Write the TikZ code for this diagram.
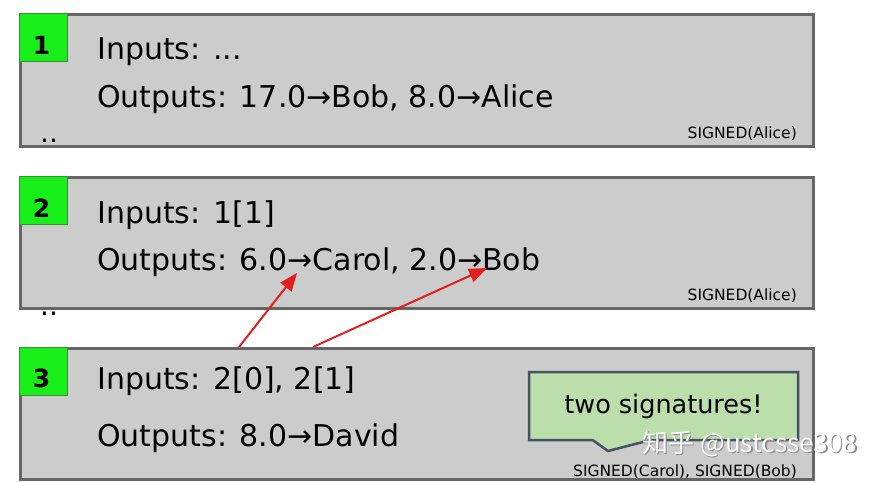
\documentclass[tikz,border=0pt]{standalone}
\usepackage{fontspec}
\setmainfont{DejaVu Sans}
\newfontfamily\cjkfont{Noto Sans CJK SC}
\usepackage{tikz}
\usetikzlibrary{shapes,arrows.meta}

\definecolor{txgray}{RGB}{204,204,204}
\definecolor{txedge}{RGB}{102,102,102}
\definecolor{numgreen}{RGB}{24,238,24}
\definecolor{numedge}{RGB}{60,140,60}
\definecolor{notegreen}{RGB}{188,222,170}
\definecolor{noteedge}{RGB}{68,84,100}
\definecolor{ptrred}{RGB}{226,30,30}

\tikzset{
  txbox/.style={draw=txedge,line width=2.5pt,fill=txgray,anchor=north west,
    minimum width=793pt,minimum height=131pt,inner sep=0pt},
  numbox/.style={draw=numedge,line width=0.8pt,fill=numgreen,anchor=north west,
    minimum size=48pt,inner sep=0pt},
  numtxt/.style={font=\fontsize{25}{28}\selectfont\bfseries,anchor=base,inner sep=0pt},
  txline/.style={font=\fontsize{30}{36}\selectfont,anchor=base west,inner sep=0pt},
  sigtxt/.style={font=\fontsize{15.5}{18}\selectfont,anchor=base east,inner sep=0pt},
  dotstxt/.style={font=\fontsize{28}{30}\selectfont,anchor=base west,inner sep=0pt},
  note/.style={rectangle callout,draw=noteedge,line width=2.5pt,fill=notegreen,
    minimum width=269pt,minimum height=68pt,inner sep=0pt,callout pointer width=58pt,
    font=\fontsize{25.5}{30}\selectfont},
  wmark/.style={font=\cjkfont\fontsize{26}{30}\selectfont,text=white,inner sep=0pt},
  wshade/.style={wmark,text=black!45},
}

\begin{document}
\begin{tikzpicture}[x=1pt,y=-1pt,>={Triangle[length=18pt,width=14pt]}]
  \useasboundingbox (0,0) rectangle (883,482);
  % the three transactions
  \node[txbox,minimum height=132pt] (tx1) at (19,13) {};
  \node[txbox] (tx2) at (19,176) {};
  \node[txbox] (tx3) at (19,347) {};
  \node[numbox] (n1) at (tx1.north west) {};
  \node[numbox] (n2) at (tx2.north west) {};
  \node[numbox] (n3) at (tx3.north west) {};
  \node[numtxt] (d1) at (41.5,54) {1};
  \node[numtxt] (d2) at (41.5,217) {2};
  \node[numtxt] (d3) at (41.5,387) {3};
  % contents
  \node[txline] (in1) at (97,59) {Inputs: ...};
  \node[txline] (out1) at (97,107) {Outputs: 17.0→Bob, 8.0→Alice};
  \node[txline] (in2) at (97,223) {Inputs: 1[1]};
  \node[txline] (out2) at (97,270) {Outputs: 6.0→Carol, 2.0→Bob};
  \node[txline] (in3) at (97,389) {Inputs: 2[0], 2[1]};
  \node[txline] (out3) at (97,446) {Outputs: 8.0→David};
  \node[sigtxt] (sig1) at (797,138) {SIGNED(Alice)};
  \node[sigtxt] (sig2) at (797,300) {SIGNED(Alice)};
  \node[sigtxt] (sig3) at (797,476) {SIGNED(Carol), SIGNED(Bob)};
  \node[dotstxt] (dots1) at (40,142) {..};
  \node[dotstxt] (dots2) at (40,315) {..};
  % inputs of 3 point back to the outputs of 2
  \coordinate (src0) at (239,347);
  \coordinate (src1) at (313,347);
  \coordinate (carol) at (297,273);
  \coordinate (bob) at (487,268);
  \draw[->,ptrred,line width=2pt] (src0) -- (carol);
  \draw[->,ptrred,line width=2pt] (src1) -- (bob);
  \node[note,callout absolute pointer={(608,451)}] (sigs) at (663.5,406) {two signatures!};
  \node[wshade] (wms) at (751.2,445.2) {知乎 @ustcsse308};
  \node[wmark] (wm) at (750,444) {知乎 @ustcsse308};
\end{tikzpicture}
\end{document}
